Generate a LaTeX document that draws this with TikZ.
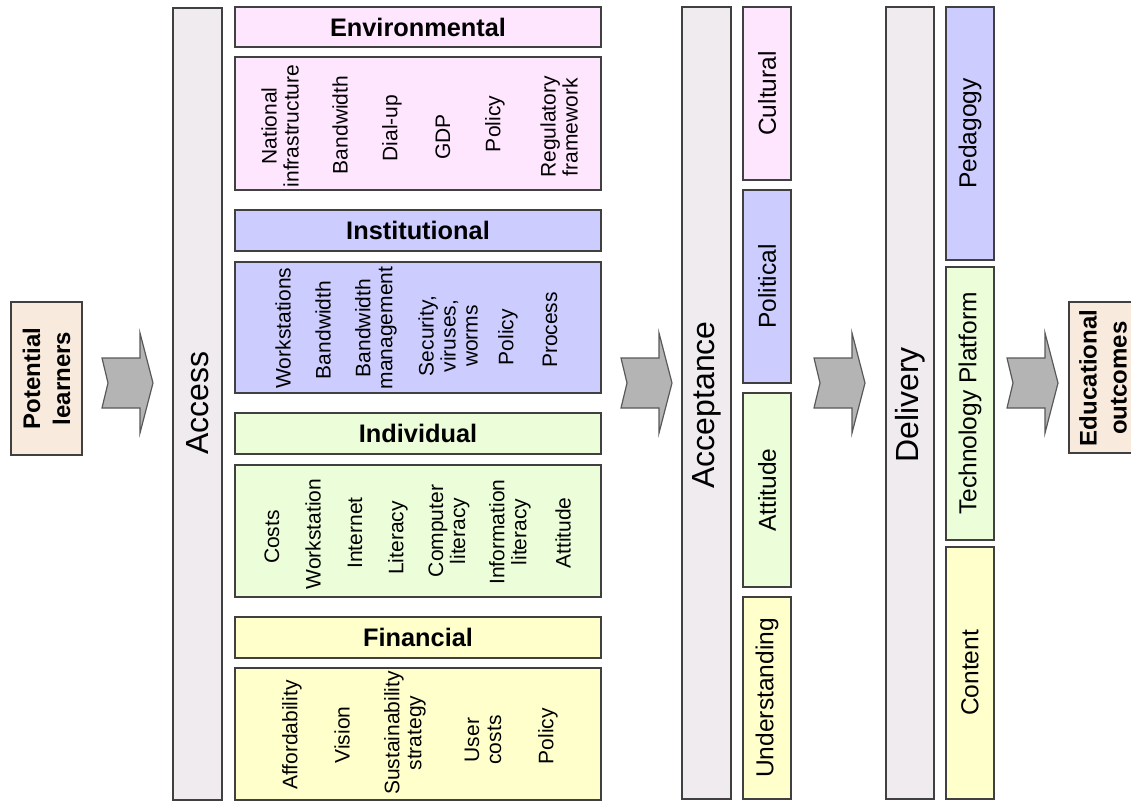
\documentclass[tikz,border=0pt]{standalone}
\usepackage{fontspec}
\setmainfont{Liberation Sans}
\usepackage{xcolor}
\usetikzlibrary{fit}

\definecolor{barfill}{HTML}{EFEBEF}
\definecolor{envfill}{HTML}{FFE6FF}
\definecolor{instfill}{HTML}{CCCCFF}
\definecolor{indfill}{HTML}{EBFDD9}
\definecolor{finfill}{HTML}{FFFFCC}
\definecolor{endfill}{HTML}{F8EADC}
\definecolor{flowfill}{HTML}{B4B4B4}

\begin{document}
\begin{tikzpicture}[
  x=0.75pt, y=-0.75pt,
  outline/.style={draw=black!75, line width=1pt, inner sep=0pt},
  bar/.style={outline, fill=barfill},
  headbox/.style={outline},
  headlabel/.style={inner sep=0pt, font=\fontsize{19}{22}\selectfont\bfseries},
  endbox/.style={outline, fill=endfill},
  item/.style={rotate=90, align=center, inner sep=0pt, font=\fontsize{15.75}{16.5}\selectfont},
  sublabel/.style={rotate=90, inner sep=0pt, font=\fontsize{18.4}{22}\selectfont},
  biglabel/.style={rotate=90, inner sep=0pt, font=\fontsize{24}{28}\selectfont},
  endlabel/.style={rotate=90, align=center, inner sep=0pt, font=\fontsize{18}{22.5}\selectfont\bfseries},
  flow/.style={draw=black!65, fill=flowfill, line width=0.9pt, line join=miter}
]
  \useasboundingbox (0,0) rectangle (1131,802);
  \clip (0,0) rectangle (1131,802);

  % start and end
  \node[endbox, fit={(11,302) (82,455)}] (learners) {};
  \node[endlabel] (learners-t) at (learners) {Potential\\learners};
  \node[endbox, fit={(1069,302) (1140,453)}] (outcomes) {};
  \node[endlabel] (outcomes-t) at (1103,378) {Educational\\outcomes};

  % access
  \node[bar, fit={(173,8) (222,800)}] (access) {};
  \node[biglabel] (access-t) at (197.5,403) {Access};

  \node[headbox, fill=envfill, fit={(235,7) (601,47)}] (envhead) {};
  \node[headlabel] (envhead-t) at (envhead) {Environmental};
  \node[outline, fill=envfill, fit={(235,57) (601,190)}] (envbox) {};
  \node[item] (env1) at (280,126) {National\\infrastructure};
  \node[item] (env2) at (340,125) {Bandwidth};
  \node[item] (env3) at (392,128) {Dial-up};
  \node[item] (env4) at (443,137) {GDP};
  \node[item] (env5) at (495,124) {Policy};
  \node[item] (env6) at (559,127) {Regulatory\\framework};

  \node[headbox, fill=instfill, fit={(235,210) (601,251)}] (insthead) {};
  \node[headlabel] (insthead-t) at (insthead) {Institutional};
  \node[outline, fill=instfill, fit={(235,262) (601,393)}] (instbox) {};
  \node[item] (inst1) at (283,328) {Workstations};
  \node[item] (inst2) at (323,330) {Bandwidth};
  \node[item] (inst3) at (376,328) {Bandwidth\\management};
  \node[item] (inst4) at (448,336) {Security,\\viruses,\\worms};
  \node[item] (inst5) at (508,337) {Policy};
  \node[item] (inst6) at (550,330) {Process};

  \node[headbox, fill=indfill, fit={(235,413) (601,454)}] (indhead) {};
  \node[headlabel] (indhead-t) at (indhead) {Individual};
  \node[outline, fill=indfill, fit={(235,465) (601,597)}] (indbox) {};
  \node[item] (ind1) at (272,537) {Costs};
  \node[item] (ind2) at (313,534) {Workstation};
  \node[item] (ind3) at (355,533) {Internet};
  \node[item] (ind4) at (398,538) {Literacy};
  \node[item] (ind5) at (449,531) {Computer\\literacy};
  \node[item] (ind6) at (510,532) {Information\\literacy};
  \node[item] (ind7) at (563,533) {Attitude};

  \node[headbox, fill=finfill, fit={(235,617) (601,658)}] (finhead) {};
  \node[headlabel] (finhead-t) at (finhead) {Financial};
  \node[outline, fill=finfill, fit={(235,668) (601,800)}] (finbox) {};
  \node[item] (fin1) at (292,735) {Affordability};
  \node[item] (fin2) at (342,735) {Vision};
  \node[item] (fin3) at (405,733) {Sustainability\\strategy};
  \node[item] (fin4) at (483,740) {User\\costs};
  \node[item] (fin5) at (548,736) {Policy};

  % acceptance
  \node[bar, fit={(682,7) (731,799)}] (accept) {};
  \node[biglabel] (accept-t) at (706.5,405) {Acceptance};
  \node[outline, fill=envfill, fit={(743,7) (791,180)}] (cultural) {};
  \node[sublabel] (cultural-t) at (cultural) {Cultural};
  \node[outline, fill=instfill, fit={(743,190) (791,383)}] (political) {};
  \node[sublabel] (political-t) at (political) {Political};
  \node[outline, fill=indfill, fit={(743,393) (791,587)}] (attitude) {};
  \node[sublabel] (attitude-t) at (attitude) {Attitude};
  \node[outline, fill=finfill, fit={(743,597) (791,799)}] (underst) {};
  \node[sublabel] (underst-t) at (underst) {Understanding};

  % delivery
  \node[bar, fit={(886,7) (934,799)}] (delivery) {};
  \node[biglabel] (delivery-t) at (910,405) {Delivery};
  \node[outline, fill=instfill, fit={(946,7) (994,260)}] (pedagogy) {};
  \node[sublabel] (pedagogy-t) at (pedagogy) {Pedagogy};
  \node[outline, fill=indfill, fit={(946,267) (994,540)}] (techplat) {};
  \node[sublabel] (techplat-t) at (techplat) {Technology Platform};
  \node[outline, fill=finfill, fit={(946,547) (994,799)}] (content) {};
  \node[sublabel] (content-t) at (content) {Content};

  % block arrows between the stages
  \foreach \ax in {102,621,814,1007}
    \draw[flow] (\ax,358) -- ++(38,0) -- ++(0,-25) -- ++(13,50) -- ++(-13,50)
      -- ++(0,-25) -- ++(-38,0) -- ++(6,-25) -- cycle;
\end{tikzpicture}
\end{document}
